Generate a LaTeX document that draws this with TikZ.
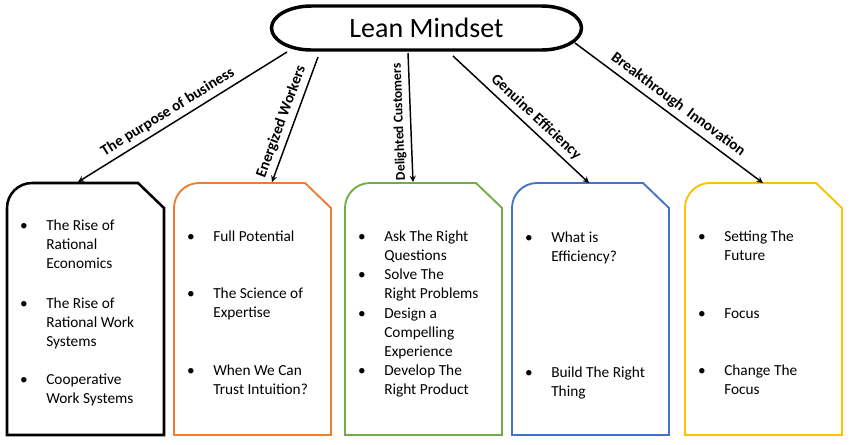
\documentclass[tikz,border=0pt]{standalone}
\usepackage{fontspec}
\setmainfont{Carlito}
\definecolor{boxorange}{RGB}{237,125,49}
\definecolor{boxgreen}{RGB}{112,173,71}
\definecolor{boxblue}{RGB}{68,114,196}
\definecolor{boxyellow}{RGB}{255,192,0}
\newcommand{\itemlines}[1]{\begin{tabular}[t]{@{}l@{}}#1\end{tabular}}
\tikzset{
  itemtext/.style={anchor=base west, inner sep=0pt, font=\fontsize{11.5}{14.5}\selectfont},
  itemdot/.style={anchor=base, inner sep=0pt, font=\fontsize{11.5}{14.5}\selectfont},
  link/.style={-stealth, line width=1.1pt},
  linklabel/.style={sloped, above, inner sep=3.5pt, font=\bfseries\fontsize{11.5}{13}\selectfont},
}
\begin{document}
\begin{tikzpicture}[x=0.75pt, y=-0.75pt]
\useasboundingbox (0,0) rectangle (850,444);

\node[inner sep=0pt, font=\fontsize{21}{25}\selectfont] (lean) at (426.5,28) {Lean Mindset};
\draw[line width=2.6pt] (311.5,6) -- (541.5,6) arc[start angle=-90, end angle=90, x radius=40, y radius=22]
  -- (311.5,50) arc[start angle=90, end angle=270, x radius=40, y radius=22] -- cycle;

\foreach \l/\c/\w in {7/black/1.9pt, 174/boxorange/1.4pt, 345/boxgreen/1.4pt, 512/boxblue/1.4pt, 685/boxyellow/1.4pt}
  \draw[\c, line width=\w] (\l,435) -- (\l,208) arc[start angle=180, end angle=270, radius=25]
    -- (\l+131,183) -- (\l+157,208) -- (\l+157,435) -- cycle;

\coordinate (lean1) at (287,52);
\coordinate (lean2) at (318,57);
\coordinate (lean3) at (408,53);
\coordinate (lean4) at (453,56);
\coordinate (lean5) at (575,43);
\coordinate (top1) at (78,182);
\coordinate (top2) at (272,182);
\coordinate (top3) at (413,182);
\coordinate (top4) at (589,183);
\coordinate (top5) at (763,183);

\draw[link] (lean1) -- node[linklabel, pos=0.54] (lab1) {The purpose of business} (top1);
\draw[link] (lean2) -- node[linklabel, pos=0.55] (lab2) {Energized Workers} (top2);
\draw[link, stealth-] (top3) -- node[linklabel, allow upside down, pos=0.47,
  font=\bfseries\fontsize{10.2}{12}\selectfont] (lab3) {Delighted Customers} (lean3);
\draw[link] (lean4) -- node[linklabel, pos=0.55] (lab4) {Genuine Efficiency} (top4);
\draw[link] (lean5) -- node[linklabel, pos=0.51] (lab5) {Breakthrough\ \ Innovation} (top5);

\foreach \l/\y/\t [count=\i] in {
  7/230/{The Rise of\\Rational\\Economics},
  7/308/{The Rise of\\Rational Work\\Systems},
  7/384/{Cooperative\\Work Systems},
  174/241/{Full Potential},
  174/298/{The Science of\\Expertise},
  174/375/{When We Can\\Trust Intuition?},
  345/241/{Ask The Right\\Questions},
  345/279/{Solve The\\Right Problems},
  345/318/{Design a\\Compelling\\Experience},
  345/375/{Develop The\\Right Product},
  512/242/{What is\\Efficiency?},
  512/377/{Build The Right\\Thing},
  685/241/{Setting The\\Future},
  685/318/{Focus},
  685/375/{Change The\\Focus}}
{
  \node[itemdot] (dot\i) at (\l+17,\y) {\textbullet};
  \node[itemtext] (item\i) at (\l+39,\y) {\itemlines{\t}};
}
\end{tikzpicture}
\end{document}
